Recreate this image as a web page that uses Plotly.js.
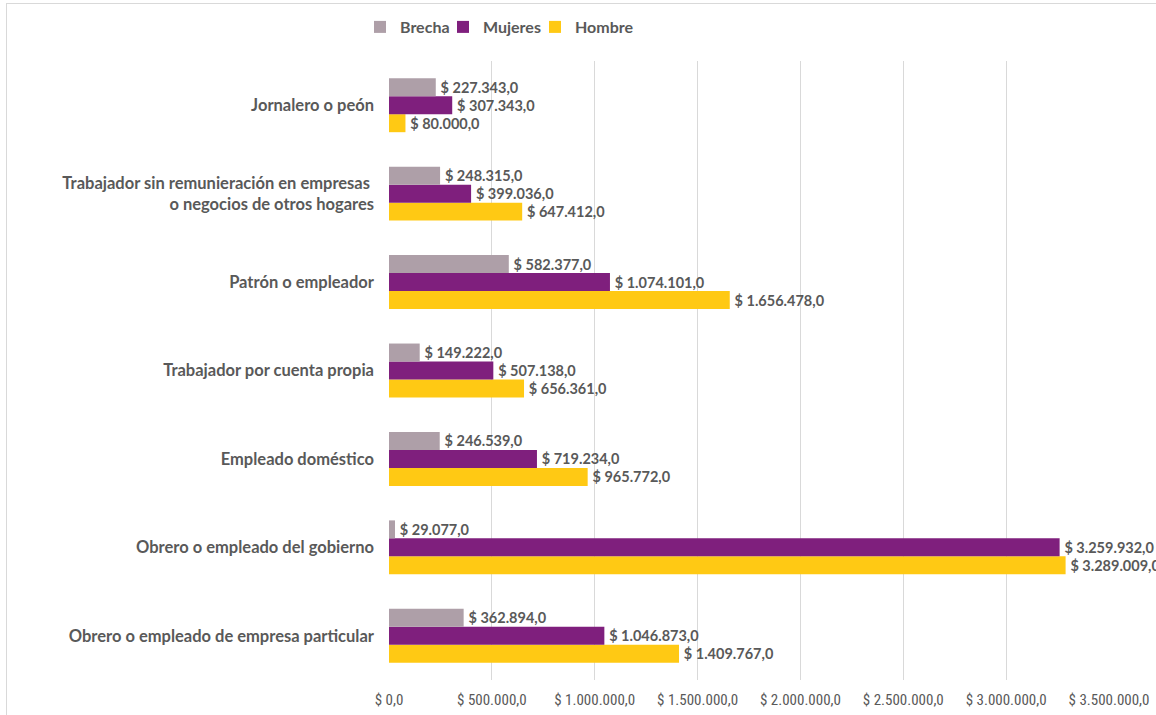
<!DOCTYPE html>
<html>
<head>
<meta charset="utf-8">
<script src="https://cdn.plot.ly/plotly-3.0.1.min.js"></script>
<style>
  html, body { margin: 0; padding: 0; background: #fff; }
  #wrap { position: relative; width: 1156px; height: 715px; overflow: hidden; }
  #chart { position: absolute; left: 0; top: 0; width: 1156px; height: 715px; }
  #frame { position: absolute; left: 6px; top: 3px; width: 1200px; height: 800px;
           border-left: 1px solid #D9D9D9; border-top: 1px solid #D9D9D9; pointer-events: none; }
</style>
</head>
<body>
<div id="wrap"><div id="chart"></div><div id="frame"></div></div>
<script>
// Categories listed bottom to top
const categories = [
  "Obrero o empleado de empresa particular",
  "Obrero o empleado del gobierno",
  "Empleado doméstico",
  "Trabajador por cuenta propia",
  "Patrón o empleador",
  "Trabajador sin remunieración en empresas <br>o negocios de otros hogares",
  "Jornalero o peón"
];
const hombre  = [1409767, 3289009, 965772, 656361, 1656478, 647412, 80000];
const mujeres = [1046873, 3259932, 719234, 507138, 1074101, 399036, 307343];
const brecha  = [362894, 29077, 246539, 149222, 582377, 248315, 227343];
const tickVals = [0, 500000, 1000000, 1500000, 2000000, 2500000, 3000000, 3500000];

function fmtMoney(v) {
  const parts = v.toFixed(1).split(".");
  const intPart = parts[0].replace(/\B(?=(\d{3})+(?!\d))/g, ".");
  return "$ " + intPart + "," + parts[1];
}
const tickText = tickVals.map(fmtMoney);

const labelFont = { family: "Lato, 'Open Sans', sans-serif", size: 14.5, color: "#595959", weight: "bold" };
const legendFont = { family: "Lato, 'Open Sans', sans-serif", size: 16, color: "#595959", weight: "bold" };

function mk(name, values, color, legendId) {
  return {
    type: "bar", orientation: "h", name: name,
    y: categories, x: values,
    marker: { color: color },
    texttemplate: "\u2009$ %{x:,.1f}",
    textposition: "outside",
    textfont: labelFont,
    cliponaxis: false,
    constraintext: "none",
    legend: legendId,
    hoverinfo: "x+name"
  };
}

const data = [
  mk("Hombre", hombre, "#FFC914", "legend3"),
  mk("Mujeres", mujeres, "#7F1F7D", "legend2"),
  mk("Brecha", brecha, "#AE9FA8", "legend")
];

function leg(px) {
  return {
    orientation: "h",
    xref: "container", yref: "container",
    x: px / 1156, xanchor: "left", y: 1 - 27 / 715, yanchor: "middle",
    font: legendFont,
    itemwidth: 30,
    bgcolor: "rgba(0,0,0,0)"
  };
}

const layout = {
  width: 1156, height: 715,
  separators: ",.",
  barmode: "group",
  bargap: 0.39,
  bargroupgap: 0,
  margin: { l: 389, r: 47, t: 61, b: 35, autoexpand: false },
  paper_bgcolor: "rgba(0,0,0,0)",
  plot_bgcolor: "#fff",
  showlegend: true,
  legend: leg(360),
  legend2: leg(443),
  legend3: leg(535),
  xaxis: {
    range: [0, 3500000],
    tickvals: tickVals,
    ticktext: tickText,
    showgrid: true, gridcolor: "#D9D9D9", gridwidth: 1,
    zeroline: false, showline: false,
    ticks: "",
    ticklabelstandoff: 9,
    tickfont: { family: "'Liberation Sans Narrow', 'Roboto Condensed', 'DejaVu Sans Condensed', sans-serif", size: 15, color: "#595959" },
    fixedrange: true
  },
  yaxis: {
    type: "category",
    categoryorder: "array", categoryarray: categories,
    showgrid: false, zeroline: false, showline: false,
    ticks: "",
    ticklabelstandoff: 14,
    tickfont: { family: "Lato, 'Open Sans', sans-serif", size: 16.5, color: "#595959", weight: "bold" },
    fixedrange: true
  }
};

Plotly.newPlot("chart", data, layout, { displayModeBar: false, staticPlot: true });
</script>
</body>
</html>
